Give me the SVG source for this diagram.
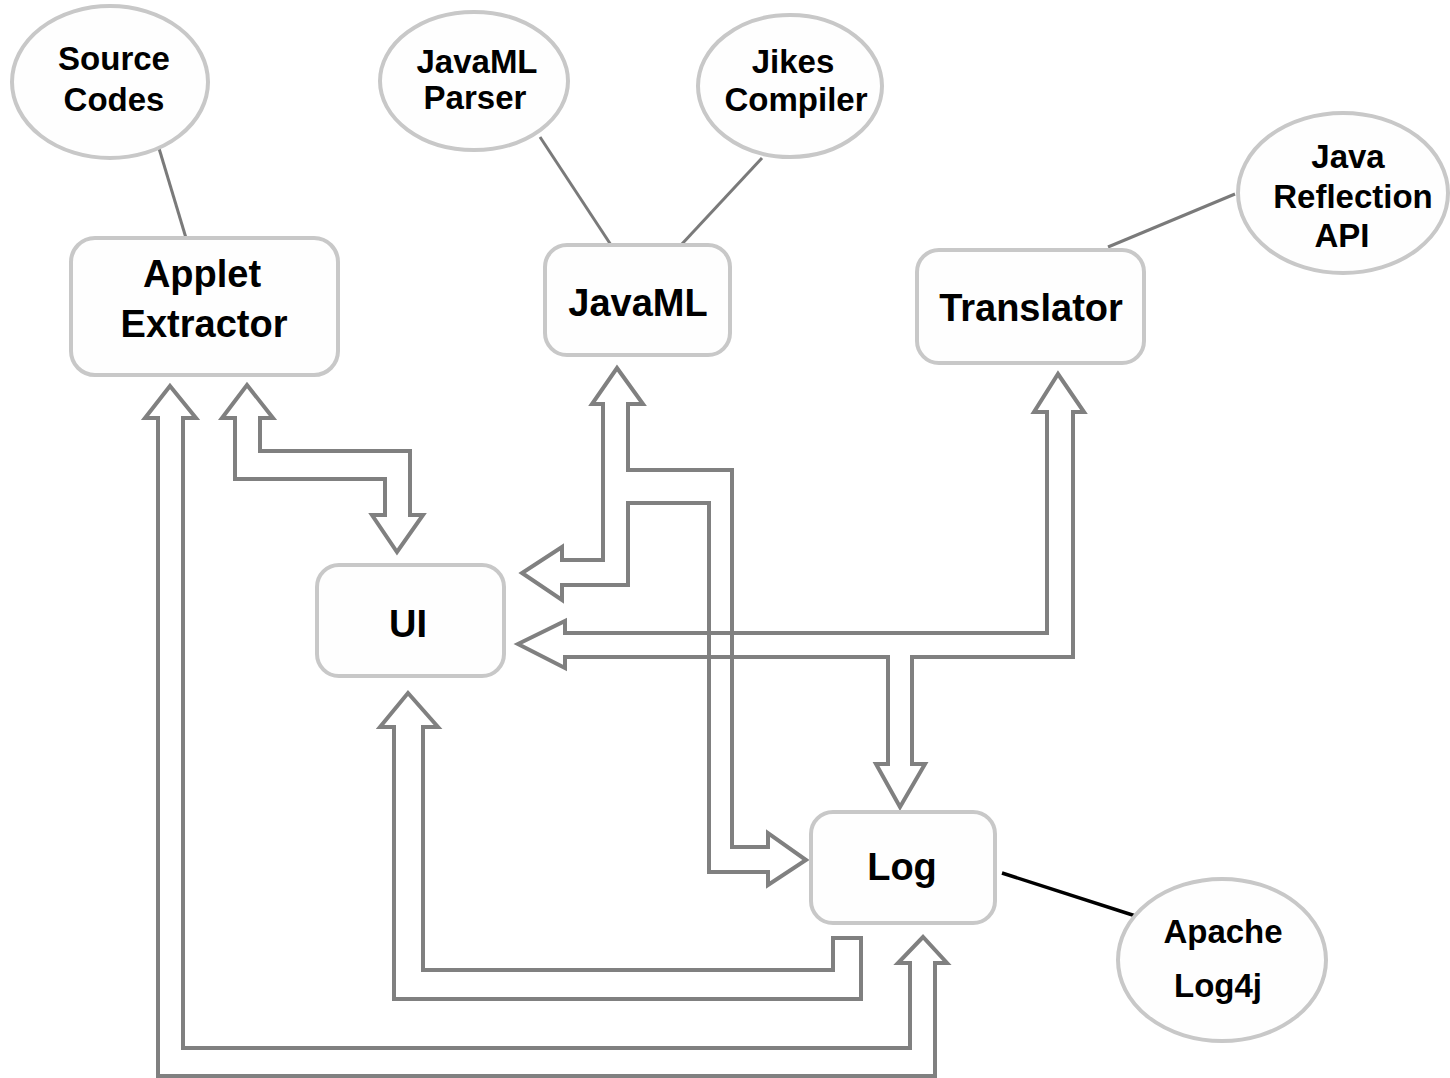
<svg xmlns="http://www.w3.org/2000/svg" width="1450" height="1078" viewBox="0 0 1450 1078">
<style>
.node{fill:#fefefe;stroke:#c8c8c8;stroke-width:4}
.lbl{font-family:"Liberation Sans",Arial,sans-serif;font-weight:bold;fill:#000;text-anchor:middle}
.el{font-size:33px}
.bx{font-size:38px}
.blk{fill:none;stroke:#808080;stroke-width:4;stroke-linejoin:miter}
.ln{stroke:#7a7a7a;stroke-width:3;fill:none}
</style>
<rect width="1450" height="1078" fill="#ffffff"/>
<g id="connectors">
<line class="ln" x1="158" y1="145" x2="186" y2="238"/>
<line class="ln" x1="540" y1="137" x2="611" y2="245"/>
<line class="ln" x1="762" y1="158" x2="681" y2="245"/>
<line class="ln" x1="1108" y1="247" x2="1235" y2="194"/>
<line x1="1002" y1="873" x2="1145" y2="919" stroke="#000" stroke-width="3.5"/>
<!-- Applet Extractor <-> Log (outer) -->
<polygon class="blk" points="170,386 196,418 183,418 183,1048 910,1048 910,963 898,963 923,937 947,963 935,963 935,1076 158,1076 158,418 145,418"/>
<!-- Applet Extractor <-> UI -->
<polygon class="blk" points="247,385 273,418 260,418 260,451 410,451 410,515 423,515 397,552 372,515 385,515 385,479 235,479 235,418 222,418"/>
<!-- Log -> UI -->
<polygon class="blk" points="408,693 438,727 423,727 423,970 833,970 833,938 861,938 861,999 394,999 394,727 380,727"/>
<!-- JavaML <-> UI / Log -->
<polygon class="blk" points="617,368 643,404 628,404 628,470 732,470 732,847 768,847 768,833 806,860 768,885 768,872 709,872 709,503 628,503 628,585 562,585 562,600 522,573 562,547 562,560 603,560 603,404 592,404"/>
<!-- Translator <-> UI / Log -->
<polygon class="blk" points="1058,374 1084,412 1073,412 1073,657 912,657 912,764 925,764 900,807 876,764 888,764 888,657 565,657 565,668 518,644 565,621 565,633 1047,633 1047,412 1034,412"/>
</g>
<g id="source-codes">
<ellipse class="node" cx="110" cy="82" rx="98" ry="76"/>
<text class="lbl el" x="114" y="70">Source</text>
<text class="lbl el" x="114" y="111">Codes</text>
</g>
<g id="javaml-parser">
<ellipse class="node" cx="474" cy="81" rx="94" ry="69"/>
<text class="lbl el" x="477" y="73">JavaML</text>
<text class="lbl el" x="475" y="109">Parser</text>
</g>
<g id="jikes-compiler">
<ellipse class="node" cx="790" cy="86" rx="92" ry="71"/>
<text class="lbl el" x="793" y="73">Jikes</text>
<text class="lbl el" x="796" y="111">Compiler</text>
</g>
<g id="java-reflection-api">
<ellipse class="node" cx="1343" cy="193" rx="105" ry="80"/>
<text class="lbl el" x="1348" y="168">Java</text>
<text class="lbl el" x="1353" y="208">Reflection</text>
<text class="lbl el" x="1342" y="247">API</text>
</g>
<g id="apache-log4j">
<ellipse class="node" cx="1222" cy="960" rx="104" ry="81"/>
<text class="lbl el" x="1223" y="943">Apache</text>
<text class="lbl el" x="1218" y="997">Log4j</text>
</g>
<g id="applet-extractor">
<rect class="node" x="71" y="238" width="267" height="137" rx="24"/>
<text class="lbl bx" x="202" y="287">Applet</text>
<text class="lbl bx" x="204" y="337">Extractor</text>
</g>
<g id="javaml">
<rect class="node" x="545" y="245" width="185" height="110" rx="22"/>
<text class="lbl bx" x="638" y="316">JavaML</text>
</g>
<g id="translator">
<rect class="node" x="917" y="250" width="227" height="113" rx="22"/>
<text class="lbl bx" x="1031" y="321">Translator</text>
</g>
<g id="ui">
<rect class="node" x="317" y="565" width="187" height="111" rx="22"/>
<text class="lbl bx" x="408" y="637">UI</text>
</g>
<g id="log">
<rect class="node" x="811" y="812" width="184" height="111" rx="22"/>
<text class="lbl bx" x="902" y="880">Log</text>
</g>
</svg>
